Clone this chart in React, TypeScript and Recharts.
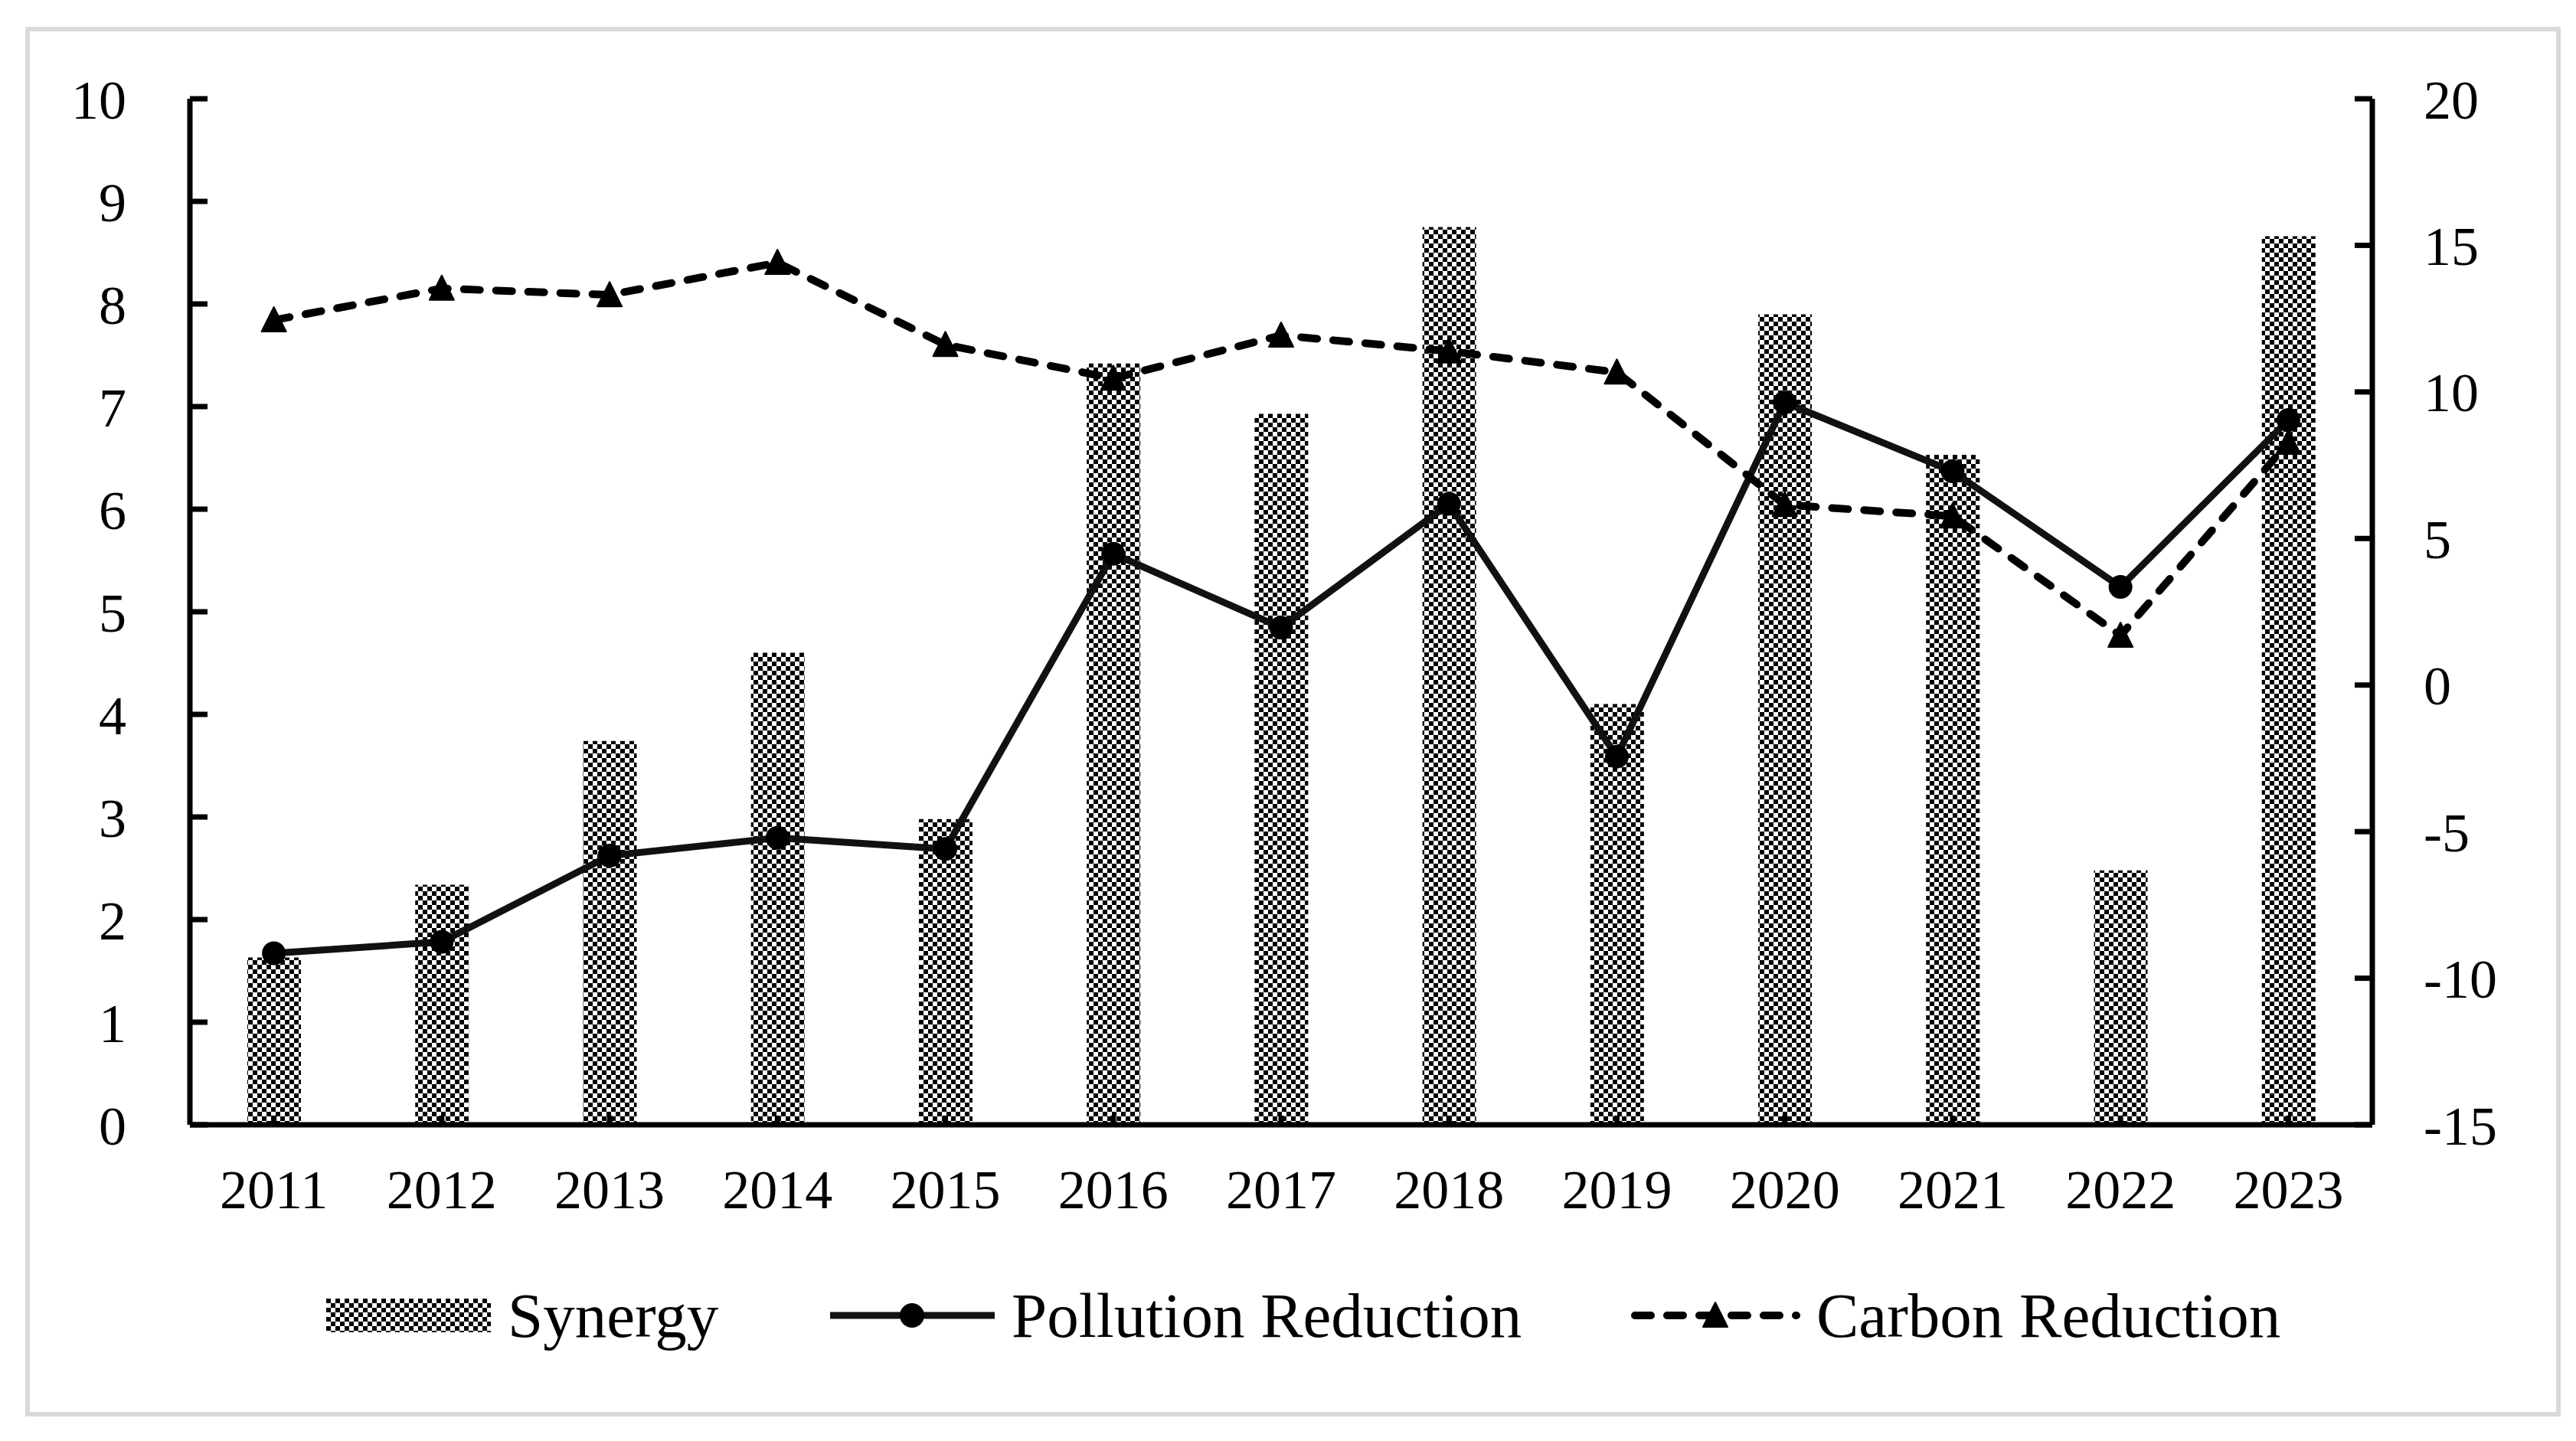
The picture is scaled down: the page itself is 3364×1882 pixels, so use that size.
import React from 'react';
import { ComposedChart, Bar, Line, XAxis, YAxis, Legend } from 'recharts';

const years = ['2011', '2012', '2013', '2014', '2015', '2016', '2017', '2018', '2019', '2020', '2021', '2022', '2023'];
const synergy = [1.63, 2.34, 3.74, 4.6, 2.98, 7.42, 6.93, 8.75, 4.1, 7.9, 6.53, 2.48, 8.66];
const pollution = [-9.15, -8.76, -5.82, -5.21, -5.59, 4.48, 1.96, 6.18, -2.44, 9.64, 7.29, 3.35, 9.04];
const carbon = [12.45, 13.53, 13.31, 14.41, 11.61, 10.46, 11.93, 11.39, 10.67, 6.15, 5.76, 1.69, 8.27];

const leftTicks = [0, 1, 2, 3, 4, 5, 6, 7, 8, 9, 10];
const rightTicks = [-15, -10, -5, 0, 5, 10, 15, 20];

const data = years.map((year, i) => ({
  year,
  synergy: synergy[i],
  pollution: pollution[i],
  carbon: carbon[i],
}));

const FONT = '"Liberation Serif", "Times New Roman", serif';
const tickStyle = { fill: '#000', fontSize: 72, fontFamily: FONT };
const axisStroke = { stroke: '#000', strokeWidth: 7 };
const DASH = '21 21';

const Checker = ({ id }: { id: string }) => (
  <pattern id={id} width={12} height={12} patternUnits="userSpaceOnUse">
    <rect width={12} height={12} fill="#fff" />
    <rect width={6} height={6} fill="#000" />
    <rect x={6} y={6} width={6} height={6} fill="#000" />
  </pattern>
);

const Triangle = ({ cx, cy }: { cx: number; cy: number }) => (
  <polygon
    points={`${cx},${cy - 17} ${cx - 16},${cy + 15} ${cx + 16},${cy + 15}`}
    fill="#000"
    stroke="#000"
    strokeWidth={2}
    strokeLinejoin="round"
  />
);

// legend item left edges
const item = (left: number): React.CSSProperties => ({
  position: 'absolute',
  left,
  top: 0,
  height: 84,
  display: 'flex',
  alignItems: 'center',
});

const renderLegend = () => (
  <div style={{ position: 'relative', height: 84, fontFamily: FONT, fontSize: 83, lineHeight: 1, color: '#000' }}>
    <div style={item(426)}>
      <svg width={215} height={44}>
        <defs>
          <Checker id="checker-legend" />
        </defs>
        <rect width={215} height={44} fill="url(#checker-legend)" />
      </svg>
    </div>
    <div style={item(663)}>Synergy</div>
    <div style={item(1084)}>
      <svg width={215} height={44}>
        <line x1={0} y1={22} x2={215} y2={22} stroke="#111" strokeWidth={9} />
        <circle cx={107} cy={22} r={16} fill="#000" />
      </svg>
    </div>
    <div style={item(1321)}>Pollution Reduction</div>
    <div style={item(2130)}>
      <svg width={221} height={44}>
        <line x1={5} y1={22} x2={216} y2={22} stroke="#000" strokeWidth={10} strokeDasharray={DASH} strokeLinecap="round" />
        <Triangle cx={110} cy={22} />
      </svg>
    </div>
    <div style={item(2372)}>Carbon Reduction</div>
  </div>
);

export default function App() {
  return (
    <div style={{ position: 'absolute', left: 0, top: 0, width: 3364, height: 1882, background: '#fff' }}>
      <div
        style={{
          position: 'absolute',
          left: 33,
          top: 35,
          width: 3299,
          height: 1803,
          border: '6px solid #d9d9d9',
        }}
      />
      <div style={{ position: 'absolute', left: 0, top: 0 }}>
        <ComposedChart width={3364} height={1882} data={data} margin={{ top: 129, right: 0, bottom: 313, left: 0 }}>
          <defs>
            <Checker id="checker" />
          </defs>
          <XAxis
            dataKey="year"
            height={100}
            axisLine={axisStroke}
            tickLine={axisStroke}
            tickSize={-12}
            tickMargin={70}
            tick={tickStyle}
            interval={0}
          />
          <YAxis
            yAxisId="left"
            orientation="left"
            width={248}
            domain={[0, 10]}
            ticks={leftTicks}
            interval={0}
            axisLine={axisStroke}
            tickLine={axisStroke}
            tickSize={-23}
            tickMargin={106}
            tick={tickStyle}
          />
          <YAxis
            yAxisId="right"
            orientation="right"
            width={266}
            domain={[-15, 20]}
            ticks={rightTicks}
            interval={0}
            axisLine={axisStroke}
            tickLine={axisStroke}
            tickSize={-23}
            tickMargin={90}
            tick={{ ...tickStyle, textAnchor: 'start' }}
          />
          <Legend
            layout="horizontal"
            verticalAlign="middle"
            align="center"
            content={renderLegend}
            wrapperStyle={{ top: 1676, left: 0, width: 3364, height: 84 }}
          />
          <Bar yAxisId="left" dataKey="synergy" name="Synergy" barSize={70} fill="url(#checker)" isAnimationActive={false} />
          <Line
            yAxisId="right"
            type="linear"
            dataKey="pollution"
            name="Pollution Reduction"
            stroke="#111"
            strokeWidth={9}
            dot={{ r: 15.5, fill: '#000', stroke: 'none' }}
            activeDot={false}
            isAnimationActive={false}
          />
          <Line
            yAxisId="right"
            type="linear"
            dataKey="carbon"
            name="Carbon Reduction"
            stroke="#000"
            strokeWidth={10}
            strokeDasharray={DASH}
            strokeLinecap="round"
            dot={(p: any) => <Triangle key={p.index} cx={p.cx} cy={p.cy} />}
            activeDot={false}
            isAnimationActive={false}
          />
        </ComposedChart>
      </div>
    </div>
  );
}
